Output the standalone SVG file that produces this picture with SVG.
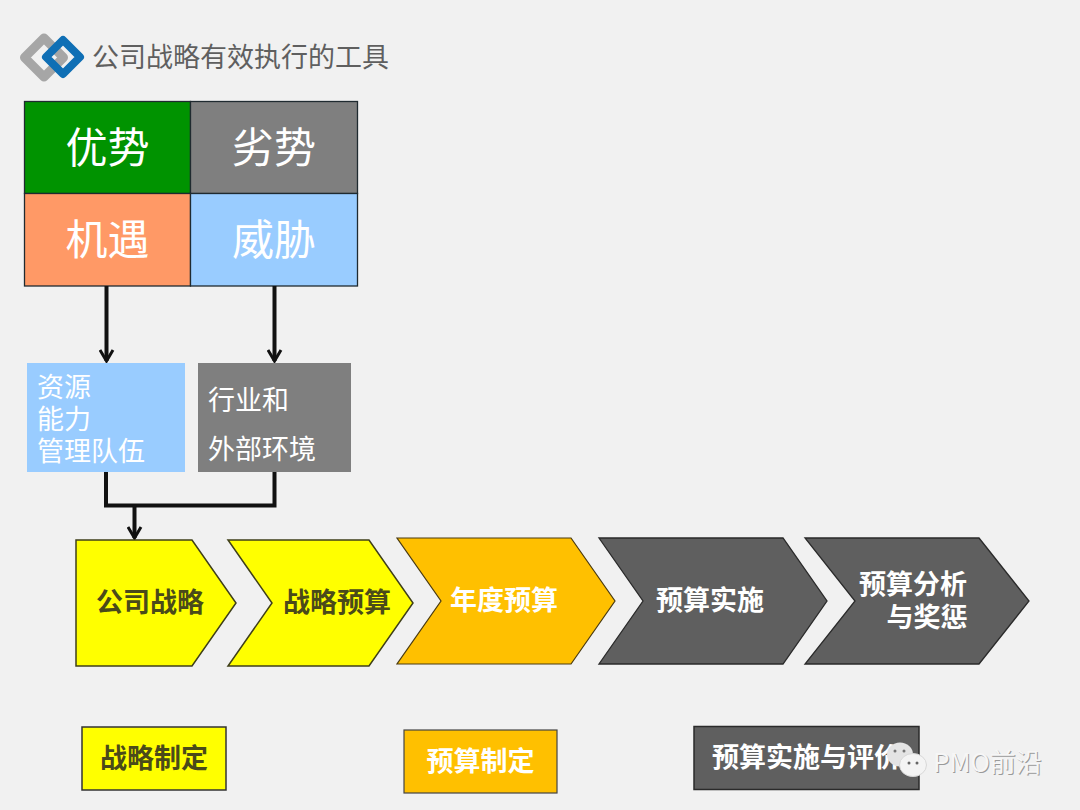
<svg xmlns="http://www.w3.org/2000/svg" width="1080" height="810" viewBox="0 0 1080 810">
<defs>
<marker id="arr" viewBox="0 0 16 16" refX="13" refY="8" markerWidth="16" markerHeight="16" markerUnits="userSpaceOnUse" orient="auto"><path d="M2 1.5L13 8L2 14.5" fill="none" stroke="#111" stroke-width="3"/></marker>
</defs>
<style>
text{font-family:"Noto Sans CJK SC","Liberation Sans",sans-serif}
.q{stroke:#1f2a30;stroke-width:1.3}
.big{font-size:42px;fill:#fff;text-anchor:middle}
.mid{font-size:27px;fill:#fff}
.b{font-size:27px;font-weight:700;text-anchor:middle}
.y{fill:#ffff00;stroke:#3f3f1a;stroke-width:1.5}
.o{fill:#ffc000;stroke:#4a3a10;stroke-width:1.2}
.g{fill:#5f5f5f;stroke:#2a2a2a;stroke-width:1.3}
.c{fill:none;stroke:#111;stroke-width:4}
</style>
<rect width="1080" height="810" fill="#f1f1f1"/>
<g id="logo" fill="none" stroke-linejoin="round">
<path d="M44 38L63.500 57.500L44 77L24.500 57.500Z" stroke="#a6a6a6" stroke-width="9"/>
<path d="M63 40L80 57L63 74L46 57Z" stroke="#0f6fb5" stroke-width="8"/>
</g>
<text id="title" x="92" y="67" font-size="27" fill="#5f5f5f">公司战略有效执行的工具</text>
<g id="swot-s"><rect class="q" x="24.500" y="101.500" width="166" height="92" fill="#009300"/><text class="big" x="107.500" y="163">优势</text></g>
<g id="swot-w"><rect class="q" x="190.500" y="101.500" width="167" height="92" fill="#7f7f7f"/><text class="big" x="274" y="163">劣势</text></g>
<g id="swot-o"><rect class="q" x="24.500" y="193.500" width="166" height="92.500" fill="#ff9966"/><text class="big" x="107.500" y="255">机遇</text></g>
<g id="swot-t"><rect class="q" x="190.500" y="193.500" width="167" height="92.500" fill="#99ccff"/><text class="big" x="274" y="255">威胁</text></g>
<g id="connectors">
<path class="c" d="M106.500 286V361" marker-end="url(#arr)"/>
<path class="c" d="M274.500 286V361" marker-end="url(#arr)"/>
<path class="c" d="M106 472V505.500H274.500V472"/>
<path class="c" d="M134.500 505.500V538" marker-end="url(#arr)"/>
</g>
<g id="resources"><rect x="27" y="363" width="158" height="109" fill="#99ccff"/><text class="mid" y="397"><tspan x="37">资源</tspan><tspan x="37" dy="32">能力</tspan><tspan x="37" dy="32">管理队伍</tspan></text></g>
<g id="industry"><rect x="198" y="363" width="153" height="109" fill="#7f7f7f"/><text class="mid" x="208" y="410">行业和</text><text class="mid" x="208" y="459">外部环境</text></g>
<g id="step1"><path class="y" d="M76 540H192L236 603L192 666H76Z"/><text class="b" x="150" y="612" fill="#4a4a1a">公司战略</text></g>
<g id="step2"><path class="y" d="M228 540H369L413 603L369 666H228L272 603Z"/><text class="b" x="337" y="612" fill="#4a4a1a">战略预算</text></g>
<g id="step3"><path class="o" d="M397 538H571L615 601L571 664H397L441 601Z"/><text class="b" x="504" y="610" fill="#fff">年度预算</text></g>
<g id="step4"><path class="g" d="M599 538H783L827 601L783 664H599L643 601Z"/><text class="b" x="710" y="610" fill="#fff">预算实施</text></g>
<g id="step5"><path class="g" d="M805 538H979L1029 601L979 664H805L855 601Z"/><text class="b" fill="#fff" y="594"><tspan x="913">预算分析</tspan><tspan x="927" dy="33">与奖惩</tspan></text></g>
<g id="legend1"><rect x="82" y="727" width="144" height="63" fill="#ffff00" stroke="#333" stroke-width="1.500"/><text class="b" x="154" y="768" fill="#4a4a1a">战略制定</text></g>
<g id="legend2"><rect x="404" y="730" width="153" height="63" fill="#ffc000" stroke="#444" stroke-width="1.200"/><text class="b" x="480.500" y="771" fill="#fff">预算制定</text></g>
<g id="legend3"><rect x="694" y="726.500" width="225" height="63" fill="#5f5f5f" stroke="#2a2a2a" stroke-width="1.500"/><text class="b" x="806.500" y="767" fill="#fff">预算实施与评价</text></g>
<g id="watermark">
<ellipse cx="900" cy="754.500" rx="13" ry="12" fill="#e4e4e4"/>
<ellipse cx="913" cy="765" rx="13.500" ry="11.500" fill="#f4f4f4" stroke="#d8d8d8" stroke-width="1"/>
<circle cx="909" cy="763" r="1.500" fill="#666"/><circle cx="917" cy="763" r="1.500" fill="#666"/>
<circle cx="895" cy="751" r="1.500" fill="#777"/><circle cx="904" cy="751" r="1.500" fill="#777"/>
<text x="933" y="772" font-size="26" fill="#9a9a9a" dx="1" dy="1">PMO前沿</text>
<text x="933" y="772" font-size="26" fill="#f6f6f6">PMO前沿</text>
</g>
</svg>
